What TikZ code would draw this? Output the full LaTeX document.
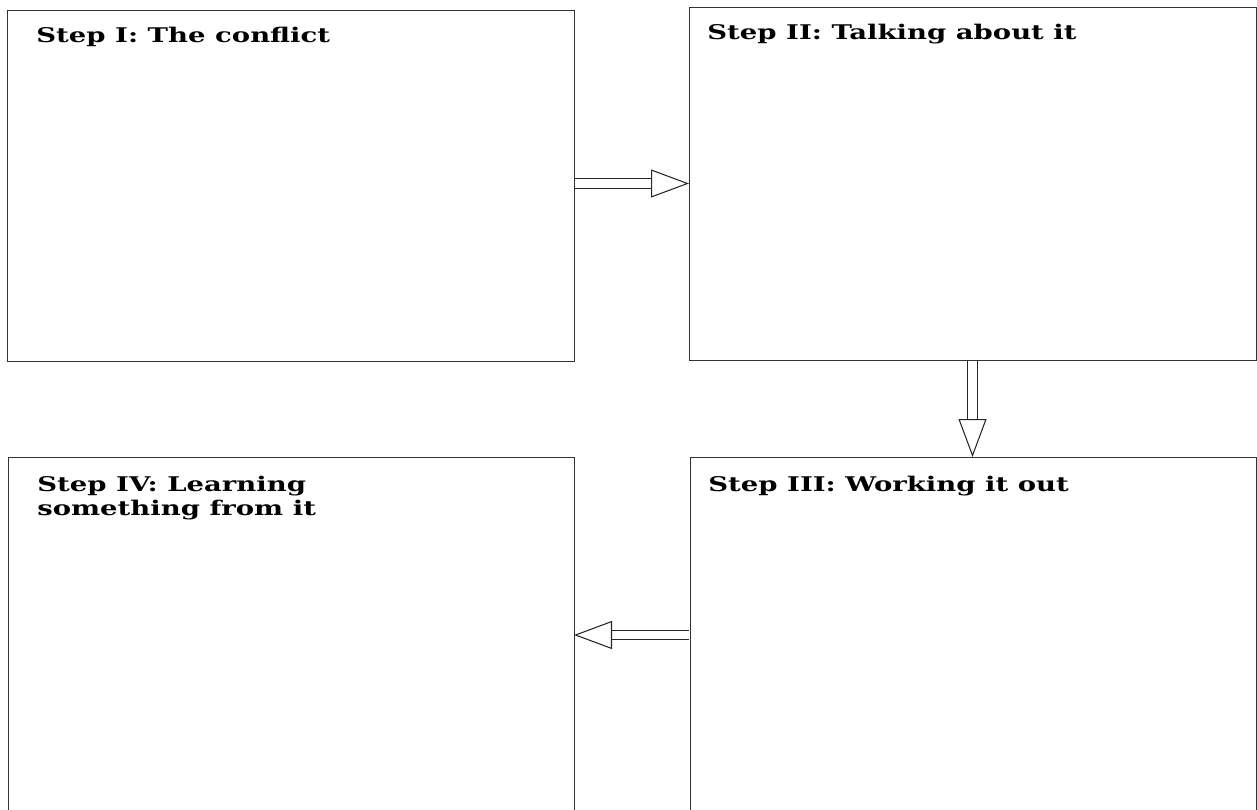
\documentclass[tikz,border=0pt]{standalone}
\usepackage{fontspec}
\setmainfont{DejaVu Serif}
\newfontfamily\stepfont[FakeStretch=1.36]{DejaVu Serif}
\usetikzlibrary{arrows.meta,positioning}

\begin{document}
\begin{tikzpicture}[
            box/.style = {draw=black!80, line width=0.55pt, inner sep=0pt, outer sep=0pt}, % frame of a step
            title/.style = {font=\stepfont\bfseries\fontsize{11.5}{13.5}\selectfont, inner sep=0pt, align=left}, % step heading
            blockarrow/.style = {draw=black!85, double, double distance=0.17cm, line width=0.6pt,
                shorten <= 0.6pt, % keep the frame line whole
                -{Triangle[open, length=0.76cm, width=0.56cm, line width=0.6pt]}} % hollow arrow
        ]
\useasboundingbox (0,0) rectangle (25.14,16.18);
\clip (0,0) rectangle (25.14,16.18);

\node[box, minimum width=11.34cm, minimum height=7.02cm] (conflict) at (5.81,12.47) {};
\node[box, minimum width=11.34cm, minimum height=7.06cm] (talking) at (19.45,12.51) {};
\node[box, minimum width=11.32cm, minimum height=7.12cm] (working) at (19.46,3.48) {};
\node[box, minimum width=11.32cm, minimum height=7.12cm] (learning) at (5.82,3.48) {};

\node[title, below right=0.34cm and 0.58cm of conflict.north west] (t1) {Step I: The conflict};
\node[title, below right=0.34cm and 0.36cm of talking.north west] (t2) {Step II: Talking about it};
\node[title, below right=0.38cm and 0.36cm of working.north west] (t3) {Step III: Working it out};
\node[title, below right=0.38cm and 0.58cm of learning.north west] (t4) {Step IV: Learning\\something from it};

 \draw[blockarrow] ([yshift=0.04cm]conflict.east) -- ([yshift=0.04cm]conflict.east -| talking.west);
 \draw[blockarrow] (talking.south) -- (talking.south |- working.north);
 \draw[blockarrow] (working.west) -- (working.west -| learning.east);

\end{tikzpicture}
\end{document}
